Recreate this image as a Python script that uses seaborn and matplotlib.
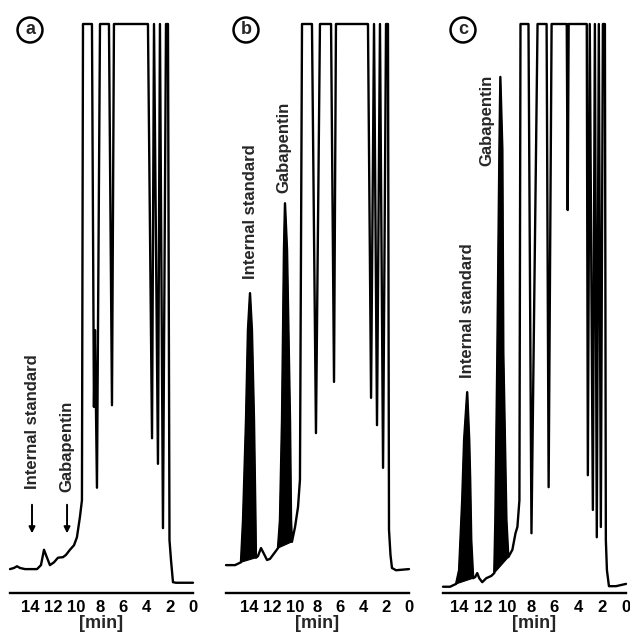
import pandas as pd
import matplotlib.pyplot as plt
import seaborn as sns

# Chromatogramas (tiempo en min, señal en % de fondo de escala)
time_a = [15.72, 15.38, 15.12, 14.86, 14.43, 13.40, 13.06, 12.80, 12.54, 12.29, 11.94, 11.60,
          11.17, 10.91, 10.57, 10.22, 9.97, 9.71, 9.54, 9.45, 8.68, 8.51, 8.42, 8.25, 7.99,
          7.22, 6.96, 6.79, 3.87, 3.52, 3.35, 3.01, 2.84, 2.58, 2.32, 2.15, 2.02, 1.89, 1.72,
          1.46, 0.0]
signal_a = [4.2, 4.4, 4.7, 4.4, 4.2, 4.2, 4.9, 7.6, 6.2, 4.9, 5.4, 6.2,
            6.3, 6.7, 7.6, 8.4, 9.8, 13.4, 16.3, 100, 100, 32.7, 46.2, 18.5, 100,
            100, 33.0, 100, 100, 27.2, 100, 22.7, 100, 11.4, 100, 100, 9.3, 5.8, 1.9,
            1.8, 1.8]

time_b = [16.01, 15.22, 14.70, 14.52, 14.26, 14.09, 13.91, 13.74, 13.56, 13.43, 13.39, 13.21,
          12.95, 12.77, 12.42, 12.16, 11.90, 11.64, 11.46, 11.29, 11.11, 10.94, 10.85, 10.67,
          10.41, 10.32, 10.24, 9.97, 9.71, 9.54, 9.36, 8.49, 8.14, 7.79, 6.82, 6.56, 6.39,
          3.59, 3.32, 3.06, 2.80, 2.54, 2.27, 2.01, 1.84, 1.75, 1.62, 1.49, 1.14, 0.0]
signal_b = [4.9, 4.9, 5.4, 12.8, 30.4, 46.2, 52.7, 46.2, 30.4, 12.8, 6.2, 6.5,
            7.9, 7.2, 5.8, 6.0, 6.7, 7.4, 7.9, 12.8, 30.4, 60.3, 68.5, 60.3,
            30.4, 12.8, 9.0, 11.6, 15.1, 19.9, 100, 100, 28.1, 100, 100, 37.1, 100,
            100, 34.3, 100, 29.5, 100, 22.0, 100, 100, 11.1, 6.7, 4.4, 4.0, 4.2]

time_c = [15.35, 14.76, 14.25, 14.00, 13.74, 13.58, 13.32, 13.15, 13.07, 12.98, 12.82, 12.65,
          12.48, 12.31, 12.06, 11.72, 11.30, 11.05, 10.96, 10.79, 10.62, 10.54, 10.37, 10.29,
          10.03, 9.87, 9.53, 9.27, 9.11, 8.94, 8.85, 8.18, 7.93, 7.42, 6.66, 6.49, 6.24,
          4.97, 4.89, 4.81, 3.29, 3.20, 3.04, 2.78, 2.61, 2.45, 2.28, 2.11, 1.94, 1.77,
          1.69, 1.60, 1.43, 0.84, 0.0]
signal_c = [1.1, 1.1, 1.6, 4.0, 16.3, 26.9, 35.3, 26.9, 19.9, 9.3, 2.6, 2.8,
            3.5, 2.6, 1.9, 2.6, 3.0, 3.5, 12.8, 42.2, 77.9, 90.7, 77.9, 42.2,
            12.8, 6.3, 7.6, 10.5, 11.6, 16.3, 100, 100, 10.5, 100, 100, 18.6, 100,
            100, 67.3, 100, 100, 20.7, 100, 14.6, 100, 9.8, 100, 11.6, 100, 100,
            9.3, 4.0, 1.2, 1.2, 1.6]

# ventanas integradas (sombreadas): estándar interno y gabapentina
peaks_a = []
peaks_b = [(14.70, 13.39), (11.46, 10.24)]
peaks_c = [(14.25, 12.82), (11.05, 9.87)]

ticks = [14, 12, 10, 8, 6, 4, 2, 0]

sns.set_style("white")
plt.rcParams['font.family'] = ['Liberation Sans', 'DejaVu Sans']

fig = plt.figure(figsize=(6.3, 6.39), dpi=100)

panels = [
    ('a', time_a, signal_a, peaks_a, 10, 15.72),
    ('b', time_b, signal_b, peaks_b, 226, 16.01),
    ('c', time_c, signal_c, peaks_c, 443, 15.35),
]
axes = []
for letter, t, s, peaks, left_px, tmax in panels:
    ax = fig.add_axes([left_px / 630, 46 / 639, 183 / 630, 569 / 639])
    df = pd.DataFrame({'time': t, 'signal': s})
    sns.lineplot(data=df, x='time', y='signal', sort=False, estimator=None,
                 color='black', linewidth=1.7, ax=ax)
    for line in ax.lines:
        line.set_clip_on(False)
    for t_left, t_right in peaks:
        sub = df[(df['time'] <= t_left) & (df['time'] >= t_right)]
        ax.fill(sub['time'], sub['signal'], color='black', lw=0.8)
    ax.set_xlim(tmax, 0)
    ax.set_ylim(0, 100)
    for side in ['top', 'left', 'right']:
        ax.spines[side].set_visible(False)
    ax.spines['bottom'].set_linewidth(1.7)
    ax.spines['bottom'].set_color('black')
    ax.set_yticks([])
    ax.set_xticks(ticks)
    ax.set_xticklabels([str(v) for v in ticks], fontweight='bold', fontsize=12)
    ax.tick_params(axis='x', direction='in', length=4, width=1.4, pad=5, colors='black')
    ax.set_xlabel('[min]', fontsize=13, fontweight='bold', labelpad=0)
    ax.set_ylabel('')
    fig.text((left_px + 20) / 630, 1 - 30 / 639, letter, fontsize=13, fontweight='bold',
             ha='center', va='center',
             bbox=dict(boxstyle='circle,pad=0.22', fc='white', ec='black', lw=1.8))
    axes.append(ax)

# rótulos de picos
lab = dict(rotation=90, fontsize=12, fontweight='bold', ha='center', va='center')
axes[0].text(13.83, 30.2, 'Internal standard', **lab)
axes[0].text(10.82, 25.7, 'Gabapentin', **lab)
for tx in [13.83, 10.82]:
    axes[0].annotate('', xy=(tx, 10.0), xytext=(tx, 16.0),
                     arrowprops=dict(arrowstyle='-|>', color='black', lw=1.4, mutation_scale=9))
axes[1].text(13.91, 67.0, 'Internal standard', **lab)
axes[1].text(10.94, 78.4, 'Gabapentin', **lab)
axes[2].text(13.32, 49.7, 'Internal standard', **lab)
axes[2].text(11.64, 83.1, 'Gabapentin', **lab)

plt.savefig('out.png', dpi=100)
